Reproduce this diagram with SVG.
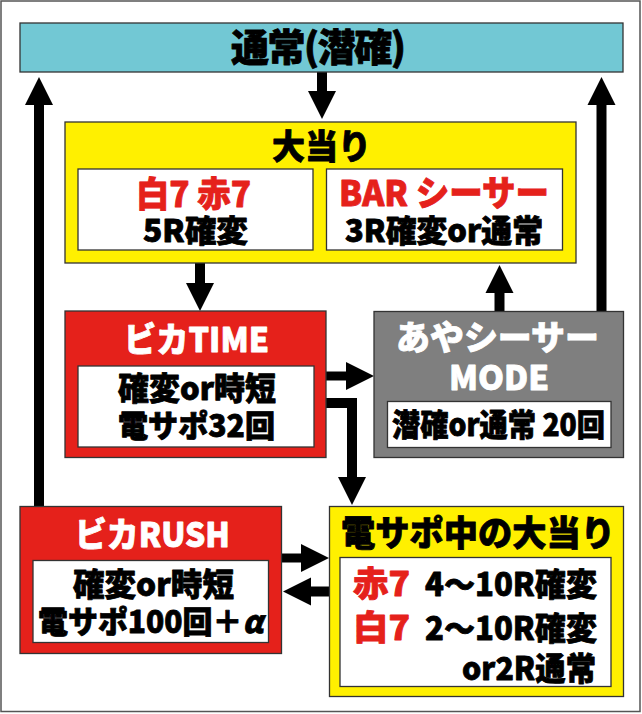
<svg xmlns="http://www.w3.org/2000/svg" width="642" height="714" viewBox="0 0 642 714">
<style>
.t{font-family:"Noto Sans CJK JP","Noto Sans",sans-serif;font-weight:900;stroke-width:0.8;stroke-linejoin:round;}
.k{fill:#000;stroke:#000;}
.w{fill:#fff;stroke:#fff;}
.r{fill:#e5211b;stroke:#e5211b;}
.box{stroke:#333;stroke-width:1.3;}
.teal{fill:#72c8d4;}
.yel{fill:#fff000;}
.red{fill:#e5211b;}
.gray{fill:#7f7f7f;}
.wb{fill:#fff;stroke:#333;stroke-width:1.3;}
.ar{fill:none;stroke:#000;stroke-width:10;stroke-linejoin:miter;}
</style>
<defs>
<marker id="ah" markerUnits="userSpaceOnUse" markerWidth="30" markerHeight="30" refX="1" refY="14" orient="auto" overflow="visible">
<path d="M0,0 L28,14 L0,28 Z" fill="#000"/>
</marker>
</defs>
<rect x="1" y="1" width="639" height="710.5" fill="#fff" stroke="#555" stroke-width="1.5"/>

<g id="connectors">
<path class="ar" d="M322,72 V92" marker-end="url(#ah)"/>
<path class="ar" d="M39,507 V104" marker-end="url(#ah)"/>
<path class="ar" d="M601.5,312 V104" marker-end="url(#ah)"/>
<path class="ar" d="M200,263 V284" marker-end="url(#ah)"/>
<path class="ar" d="M499.5,312 V292" marker-end="url(#ah)"/>
<path class="ar" d="M326,376 H347" style="stroke-width:9" marker-end="url(#ah)"/>
<path class="ar" d="M326,403 H352 V478" marker-end="url(#ah)"/>
<path class="ar" d="M281,558 H302" style="stroke-width:9" marker-end="url(#ah)"/>
<path class="ar" d="M330,591.5 H310" marker-end="url(#ah)"/>
</g>

<g id="normal">
<rect class="box teal" x="20" y="23" width="603" height="49"/>
<text class="t k" x="231" y="60.5" font-size="38" textLength="175" lengthAdjust="spacing">通常(潜確)</text>
</g>

<g id="jackpot">
<rect class="box yel" x="65" y="122" width="511" height="141"/>
<text class="t k" x="272" y="159" font-size="34" textLength="99" lengthAdjust="spacingAndGlyphs">大当り</text>
<g id="jackpot-7">
<rect class="wb" x="78" y="169" width="235" height="81"/>
<text class="t r" x="136" y="206.5" font-size="35" textLength="115" lengthAdjust="spacingAndGlyphs">白7 赤7</text>
<text class="t k" x="143" y="241.5" font-size="31" textLength="105" lengthAdjust="spacingAndGlyphs">5R確変</text>
</g>
<g id="jackpot-bar">
<rect class="wb" x="326.5" y="169" width="236" height="81"/>
<text class="t r" x="339" y="206" font-size="35" textLength="210" lengthAdjust="spacingAndGlyphs">BAR シーサー</text>
<text class="t k" x="345" y="241.5" font-size="31" textLength="198" lengthAdjust="spacingAndGlyphs">3R確変or通常</text>
</g>
</g>

<g id="bika-time">
<rect class="box red" x="65" y="311" width="261" height="146.5"/>
<text class="t w" x="124" y="352" font-size="34" textLength="145" lengthAdjust="spacingAndGlyphs">ビカTIME</text>
<rect class="wb" x="78" y="366" width="236" height="81"/>
<text class="t k" x="118" y="400" font-size="32" textLength="158" lengthAdjust="spacingAndGlyphs">確変or時短</text>
<text class="t k" x="118" y="436.5" font-size="31" textLength="157" lengthAdjust="spacingAndGlyphs">電サポ32回</text>
</g>

<g id="aya-mode">
<rect class="box gray" x="374" y="311.5" width="249.5" height="146"/>
<text class="t w" x="396" y="349.5" font-size="34" textLength="203" lengthAdjust="spacingAndGlyphs">あやシーサー</text>
<text class="t w" x="449" y="390" font-size="34" textLength="100" lengthAdjust="spacingAndGlyphs">MODE</text>
<rect class="wb" x="387.5" y="401.5" width="223.5" height="46"/>
<text class="t k" x="392" y="436" font-size="31" textLength="213" lengthAdjust="spacingAndGlyphs">潜確or通常 20回</text>
</g>

<g id="bika-rush">
<rect class="box red" x="20" y="506.5" width="261.5" height="147"/>
<text class="t w" x="75" y="546.5" font-size="34" textLength="155" lengthAdjust="spacingAndGlyphs">ビカRUSH</text>
<rect class="wb" x="33" y="560.5" width="235.5" height="82"/>
<text class="t k" x="73" y="596" font-size="32" textLength="161" lengthAdjust="spacingAndGlyphs">確変or時短</text>
<text class="t k" x="38" y="633" font-size="31" textLength="225" lengthAdjust="spacingAndGlyphs">電サポ100回＋<tspan font-style="italic">α</tspan></text>
</g>

<g id="densapo-jackpot">
<rect class="box yel" x="329.5" y="506.5" width="294" height="190"/>
<text class="t k" x="341" y="546" font-size="35" textLength="274" lengthAdjust="spacingAndGlyphs">電サポ中の大当り</text>
<rect class="wb" x="340" y="557.5" width="271" height="129"/>
<text class="t r" x="353" y="596" font-size="34" textLength="57" lengthAdjust="spacingAndGlyphs">赤7</text>
<text class="t k" x="425" y="596" font-size="32" textLength="172" lengthAdjust="spacingAndGlyphs">4〜10R確変</text>
<text class="t r" x="353" y="640" font-size="34" textLength="57" lengthAdjust="spacingAndGlyphs">白7</text>
<text class="t k" x="425" y="640" font-size="32" textLength="172" lengthAdjust="spacingAndGlyphs">2〜10R確変</text>
<text class="t k" x="462" y="680" font-size="32" textLength="134" lengthAdjust="spacingAndGlyphs">or2R通常</text>
</g>
</svg>
